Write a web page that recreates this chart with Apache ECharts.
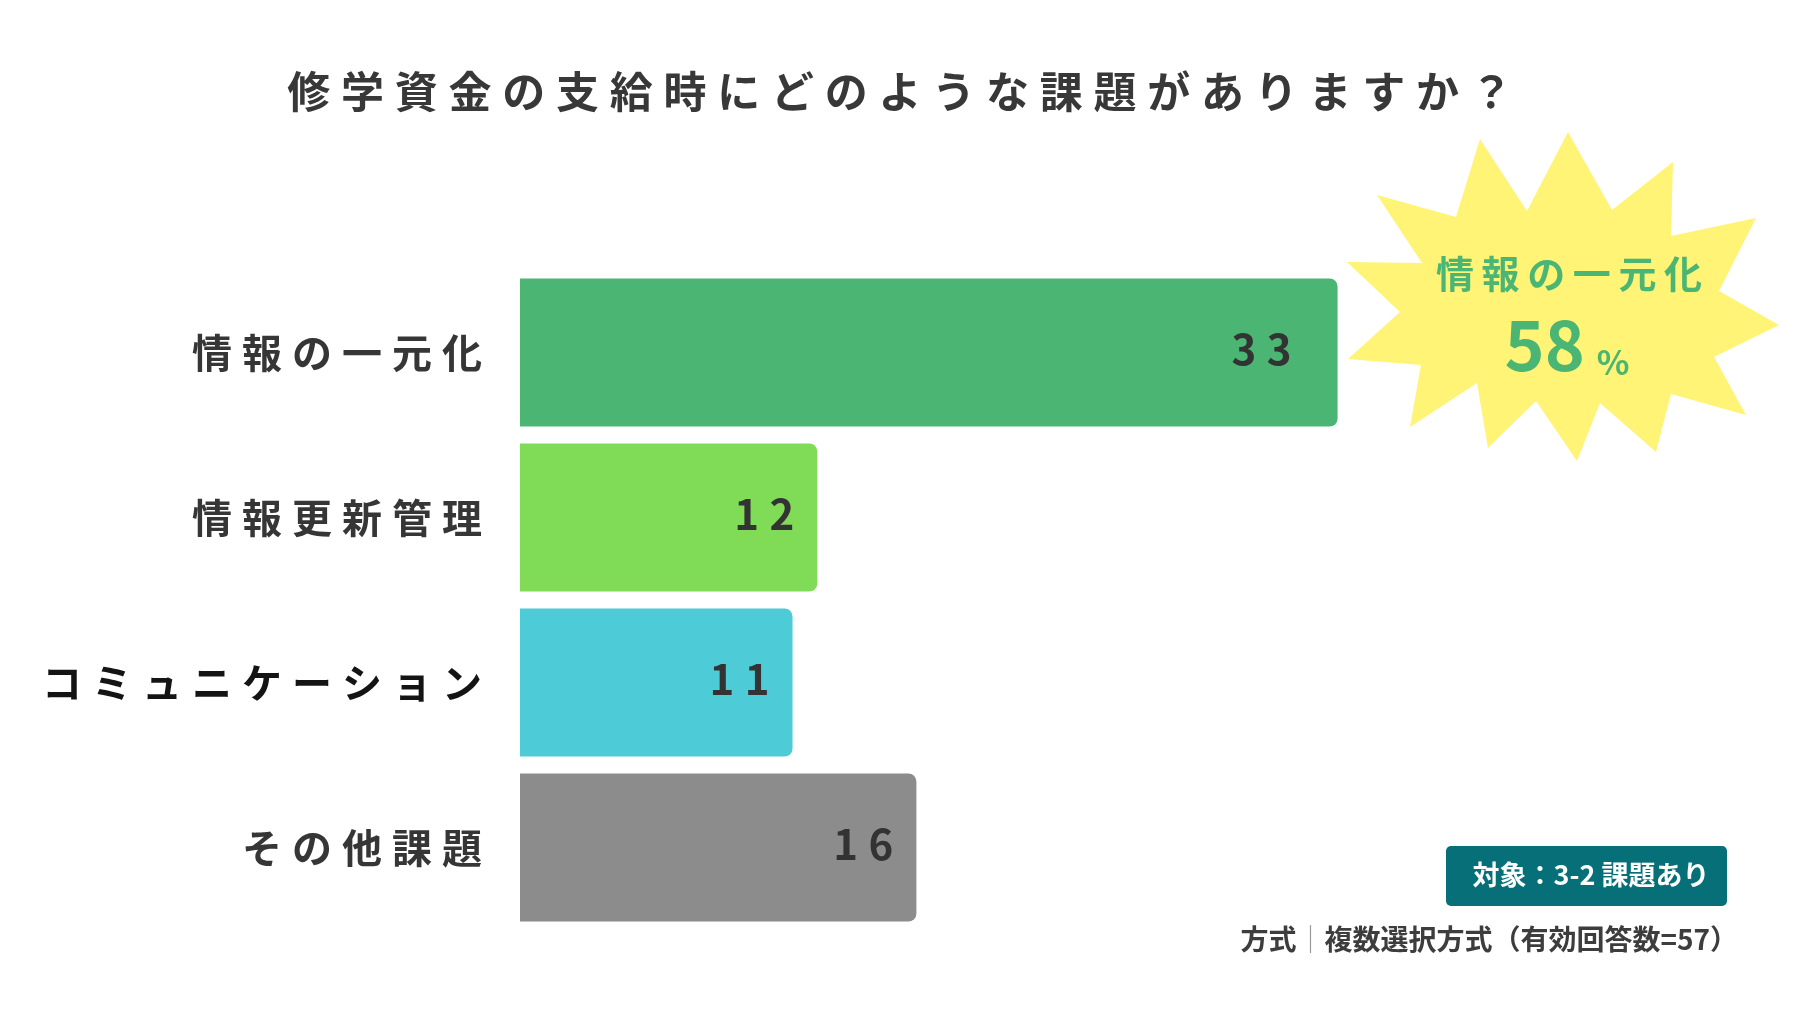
<!DOCTYPE html>
<html lang="ja">
<head>
<meta charset="utf-8">
<title>修学資金の支給時にどのような課題がありますか？</title>
<script src="https://cdn.jsdelivr.net/npm/echarts@6/dist/echarts.min.js"></script>
<style>
html, body { margin: 0; padding: 0; background: #fff; }
#main { width: 1800px; height: 1012px; }
</style>
</head>
<body>
<div id="main"></div>
<script>
// データ
const titleText = '修学資金の支給時にどのような課題がありますか？';
const categories = ['情報の一元化', '情報更新管理', 'コミュニケーション', 'その他課題'];
const counts = [33, 12, 11, 16];
const barColors = ['#4bb673', '#80db57', '#4dcbd6', '#8b8c8b'];
const totalAnswers = 57;
const targetText = '対象：3-2 課題あり';
const methodText = '複数選択方式（有効回答数=' + totalAnswers + '）';

const FONT = '"Noto Sans CJK JP", "Noto Sans", sans-serif';
const SP = '\u2005'; // 字間

function spaced(s, sp) {
  return s.split('').join(sp);
}

const topIdx = counts.indexOf(Math.max(...counts));
const topPct = Math.round(counts[topIdx] / totalAnswers * 100);

const chart = echarts.init(document.getElementById('main'));

chart.setOption({
  backgroundColor: '#fff',
  animation: false,
  title: {
    text: spaced(titleText, SP),
    left: 'center',
    top: 64,
    textStyle: {
      fontFamily: FONT,
      fontSize: 43,
      fontWeight: 'bold',
      color: '#383838',
      lineHeight: 46
    }
  },
  grid: {
    left: 520,
    right: 289,
    top: 270,
    bottom: 82
  },
  xAxis: {
    type: 'value',
    min: 0,
    max: 40,
    show: false
  },
  yAxis: {
    type: 'category',
    inverse: true,
    data: categories.map((c, i) => ({
      value: c,
      textStyle: { color: i === 2 ? '#141414' : '#363636' }
    })),
    axisLine: { show: false },
    axisTick: { show: false },
    axisLabel: {
      margin: 38,
      fontFamily: FONT,
      fontSize: 40,
      fontWeight: 'bold',
      lineHeight: 40,
      padding: [0, 0, 10, 0],
      formatter: v => spaced(v, SP)
    }
  },
  series: [{
    type: 'bar',
    barWidth: 148,
    data: counts.map((v, i) => ({
      value: v,
      itemStyle: { color: barColors[i] },
      label: { distance: i === topIdx ? 46 : 23 }
    })),
    itemStyle: { borderRadius: [0, 8, 8, 0] },
    label: {
      show: true,
      position: 'insideRight',
      offset: [0, -3],
      fontFamily: FONT,
      fontSize: 42,
      fontWeight: 'bold',
      color: '#333',
      formatter: p => spaced(String(p.value), SP)
    }
  }],
  graphic: [
    {
      // 吹き出し（星形）
      type: 'polygon',
      z: 5,
      shape: {
        points: [
          [1568, 132], [1612, 210], [1673, 162], [1671, 236], [1756, 218],
          [1719, 291], [1779, 325], [1714, 357], [1746, 415], [1671, 394],
          [1656, 452], [1600, 403], [1577, 461], [1536, 401], [1488, 448],
          [1477, 383], [1410, 427], [1421, 365], [1348, 359], [1400, 312],
          [1347, 262], [1422, 263], [1377, 195], [1456, 217], [1480, 139],
          [1527, 211]
        ]
      },
      style: { fill: '#fff475' }
    },
    {
      type: 'text',
      z: 6,
      x: 1569,
      y: 274,
      style: {
        text: spaced(categories[topIdx], '\u2009'),
        fontFamily: FONT,
        fontSize: 38,
        fontWeight: 'bold',
        fill: '#4bb673',
        align: 'center',
        verticalAlign: 'middle'
      }
    },
    {
      type: 'text',
      z: 6,
      x: 1567,
      y: 345,
      style: {
        text: '{n|' + topPct + '}{p|%}',
        align: 'center',
        verticalAlign: 'middle',
        rich: {
          n: { fontFamily: FONT, fontSize: 68, fontWeight: 'bold', fill: '#4bb673', lineHeight: 68 },
          p: { fontFamily: FONT, fontSize: 34, fontWeight: 'bold', fill: '#4bb673', lineHeight: 34, verticalAlign: 'bottom', padding: [0, 0, 0, 12] }
        }
      }
    },
    {
      type: 'rect',
      z: 5,
      shape: { x: 1446, y: 846, width: 281, height: 60, r: 5 },
      style: { fill: '#076f78' }
    },
    {
      type: 'text',
      z: 6,
      x: 1591,
      y: 875,
      style: {
        text: targetText,
        fontFamily: FONT,
        fontSize: 27,
        fontWeight: 'bold',
        fill: '#ffffff',
        align: 'center',
        verticalAlign: 'middle'
      }
    },
    {
      type: 'text',
      z: 6,
      x: 1738,
      y: 939,
      style: {
        text: '{a|方式}{b|｜}{a|' + methodText + '}',
        align: 'right',
        verticalAlign: 'middle',
        rich: {
          a: { fontFamily: FONT, fontSize: 28, fontWeight: 'bold', fill: '#3d3d3d' },
          b: { fontFamily: FONT, fontSize: 28, fontWeight: 'normal', fill: '#999999' }
        }
      }
    }
  ]
});
</script>
</body>
</html>
